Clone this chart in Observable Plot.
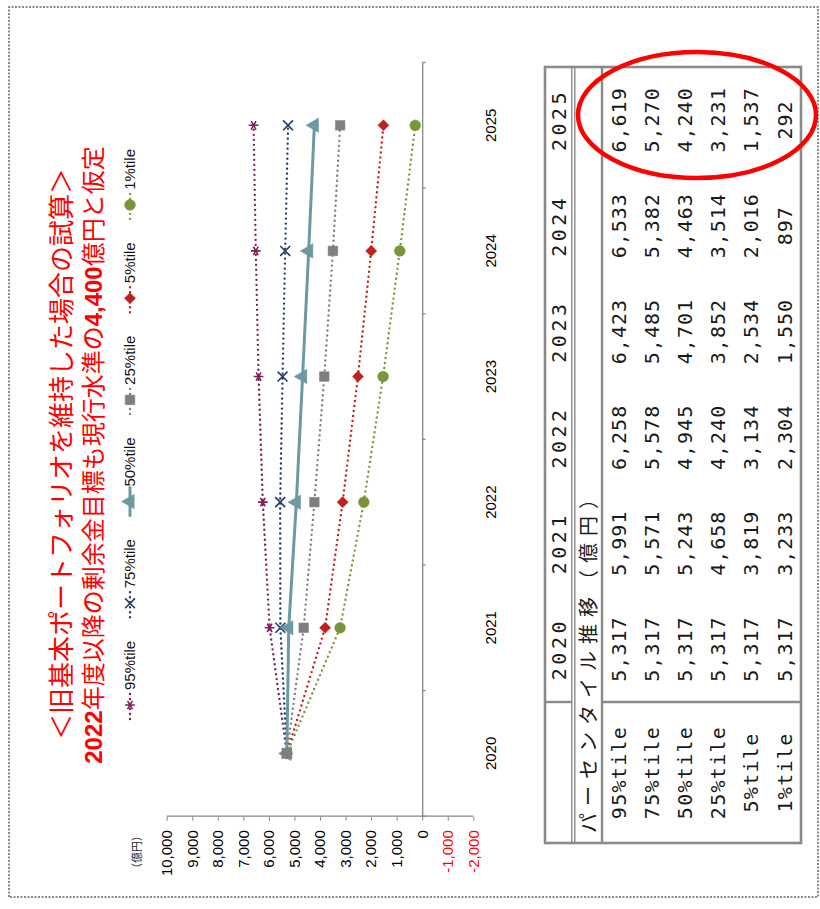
<!DOCTYPE html>
<html><head><meta charset="utf-8">
<script src="https://cdn.jsdelivr.net/npm/d3@7"></script>
<script src="https://cdn.jsdelivr.net/npm/@observablehq/plot@0.6"></script>
<style>
html,body{margin:0;padding:0;background:#fff;width:820px;height:909px;overflow:hidden}
#slide{position:absolute;left:0;top:0;width:909px;height:820px;transform-origin:0 0;transform:translateY(909px) rotate(-90deg);background:#fff}
#slide > svg{position:absolute;left:0;top:0}
</style></head><body><div id="slide"></div>
<script>
// ---------- data ----------
const years = [2020, 2021, 2022, 2023, 2024, 2025];
const seriesNames = ["95%tile", "75%tile", "50%tile", "25%tile", "5%tile", "1%tile"];
const p95 = [5317, 5991, 6258, 6423, 6533, 6619];
const p75 = [5317, 5571, 5578, 5485, 5382, 5270];
const p50 = [5317, 5243, 4945, 4701, 4463, 4240];
const p25 = [5317, 4658, 4240, 3852, 3514, 3231];
const p5  = [5317, 3819, 3134, 2534, 2016, 1537];
const p1  = [5317, 3233, 2304, 1550, 897, 292];
const yMin = -2000, yMax = 10000;
const posTicks = [0, 1000, 2000, 3000, 4000, 5000, 6000, 7000, 8000, 9000, 10000];
const negTicks = [-1000, -2000];
const unitLabel = "（億円）";
const titleLine1 = "＜旧基本ポートフォリオを維持した場合の試算＞";
const titleLine2 = [["2022", true], ["年度以降の剰余金目標も現行水準の", false], ["4,400", true], ["億円と仮定", false]];
const tableTitle = "パーセンタイル推移（億円）";
const tableValues = [p95, p75, p50, p25, p5, p1];

// ---------- styles ----------
const axisGray = "#868686";
const dotted = "0 5";
const styles = [
  {color: "#7F1F5A", symbol: "asterisk", dash: dotted, width: 2.4, r: 4.6, filled: false},
  {color: "#1F3D6B", symbol: "times", dash: dotted, width: 2.4, r: 4.6, filled: false},
  {color: "#6C99A2", symbol: "triangle", dash: null, width: 3, r: 5.4, filled: true},
  {color: "#7F7F7F", symbol: "square", dash: dotted, width: 2.4, r: 5.4, filled: true},
  {color: "#C0211E", symbol: "diamond2", dash: dotted, width: 2.4, r: 5, filled: true},
  {color: "#77963A", symbol: "circle", dash: dotted, width: 2.4, r: 5.4, filled: true}
];
const series = seriesNames.map((name, k) => ({name, values: tableValues[k], ...styles[k]}));
const yearBounds = years.map(y => y - 0.5).concat([years[years.length - 1] + 0.5]);
const fmt = d => (d < 0 ? "-" : "") + d3.format(",")(Math.abs(d));

const lineMarks = series.map(s => Plot.line(
  years.map((yr, i) => ({year: yr, value: s.values[i]})),
  {x: "year", y: "value", stroke: s.color, strokeWidth: s.width,
   strokeDasharray: s.dash || undefined, strokeLinecap: "round"}));
const dotOrder = [0, 1, 2, 4, 5, 3];
const dotMarks = dotOrder.map(k => {
  const s = series[k];
  return Plot.dot(
    years.map((yr, i) => ({year: yr, value: s.values[i]})),
    {x: "year", y: "value", symbol: s.symbol, r: s.r,
     fill: s.filled ? s.color : "none", stroke: s.color, strokeWidth: s.filled ? 0.5 : 1.6});
});

const chart = Plot.plot({
  width: 909, height: 820,
  marginLeft: 92.3, marginRight: 63, marginTop: 166.7, marginBottom: 346.7,
  x: {type: "linear", domain: [yearBounds[0], yearBounds[yearBounds.length - 1]]},
  y: {domain: [yMin, yMax]},
  style: {fontFamily: '"Liberation Sans", Arial, sans-serif', fontSize: "15px", background: "transparent", overflow: "visible", color: "black"},
  marks: [
    Plot.ruleY([0], {stroke: axisGray, strokeWidth: 1.3}),
    Plot.ruleX(yearBounds, {y1: 0, y2: -130, stroke: axisGray, strokeWidth: 1.3}),
    Plot.ruleX([yearBounds[0]], {y1: yMin, y2: yMax, stroke: axisGray, strokeWidth: 1.3}),
    Plot.axisY({ticks: posTicks, tickSize: 4, tickPadding: 10, stroke: axisGray, fill: "black", tickFormat: fmt, label: null}),
    Plot.axisY({ticks: negTicks, tickSize: 4, tickPadding: 10, stroke: axisGray, fill: "#FF0000", tickFormat: fmt, label: null}),
    Plot.axisX({ticks: years, tickSize: 0, tickPadding: 12, tickFormat: d => String(d), label: null}),
    ...lineMarks,
    ...dotMarks
  ]
});
const slide = document.getElementById("slide");
slide.appendChild(chart);

// ---------- overlay: frame, title, legend, table ----------
const svg = d3.select(slide).append("svg").attr("width", 909).attr("height", 820)
  .style("overflow", "visible");
const cjk = '"Noto Sans CJK JP", "Noto Sans", sans-serif';
const sans = '"Liberation Sans", Arial, sans-serif';
const mono = '"DejaVu Sans Mono", monospace';

svg.append("rect").attr("x", 12).attr("y", 9).attr("width", 890).attr("height", 809)
  .attr("fill", "none").attr("stroke", "#666").attr("stroke-width", 1.5).attr("stroke-dasharray", "2 1.5");

// title
svg.append("text").attr("x", 455).attr("y", 62).attr("dy", "0.36em").attr("text-anchor", "middle")
  .attr("font-family", cjk).attr("font-size", 26).attr("fill", "#FF0000").text(titleLine1);
const t2 = svg.append("text").attr("x", 454).attr("y", 93).attr("dy", "0.36em").attr("text-anchor", "middle")
  .attr("font-size", 24).attr("fill", "#FF0000");
titleLine2.forEach(([txt, bold]) => {
  t2.append("tspan").attr("font-family", bold ? sans : cjk).attr("font-weight", bold ? "bold" : "normal").text(txt);
});

// unit label
svg.append("text").attr("x", 79).attr("y", 137).attr("dy", "0.36em").attr("text-anchor", "end")
  .attr("font-family", cjk).attr("font-size", 11).attr("fill", "#222").text(unitLabel);

// legend (items laid out by measured text width)
const symMap = {asterisk: d3.symbolAsterisk, times: d3.symbolTimes, triangle: d3.symbolTriangle,
  square: d3.symbolSquare, diamond2: d3.symbolDiamond2, circle: d3.symbolCircle};
let legU = 190;
const legV = 130;
series.forEach((s) => {
  const g = svg.append("g");
  g.append("line").attr("x1", legU).attr("x2", legU + 28).attr("y1", legV).attr("y2", legV)
    .attr("stroke", s.color).attr("stroke-width", s.width).attr("stroke-linecap", "round")
    .attr("stroke-dasharray", s.dash || null);
  g.append("path").attr("transform", `translate(${legU + 14},${legV})`)
    .attr("d", d3.symbol(symMap[s.symbol], Math.PI * s.r * s.r)())
    .attr("fill", s.filled ? s.color : "none").attr("stroke", s.color).attr("stroke-width", s.filled ? 0.5 : 1.6);
  const t = g.append("text").attr("x", legU + 29).attr("y", legV).attr("dy", "0.36em")
    .attr("font-family", sans).attr("font-size", 15).attr("fill", "#111").text(s.name);
  const w = t.node().getComputedTextLength();
  legU += 29 + w + 23.5;
});

// table
const tb = {u0: 66, u1: 842, v0: 545, vHead: 573, vSub: 602, v1: 801, uLab: 207};
const tg = svg.append("g");
const tl = (x1, y1, x2, y2, w) => tg.append("line").attr("x1", x1).attr("y1", y1).attr("x2", x2).attr("y2", y2)
  .attr("stroke", "#8a8a8a").attr("stroke-width", w);
tg.append("rect").attr("x", tb.u0).attr("y", tb.v0).attr("width", tb.u1 - tb.u0).attr("height", tb.v1 - tb.v0)
  .attr("fill", "none").attr("stroke", "#8a8a8a").attr("stroke-width", 2.6);
tl(tb.u0, tb.vHead - 1.2, tb.u1, tb.vHead - 1.2, 1.4);
tl(tb.u0, tb.vHead + 1.8, tb.u1, tb.vHead + 1.8, 1.4);
tl(tb.u0, tb.vSub, tb.u1, tb.vSub, 2.4);
tl(tb.uLab, tb.v0, tb.uLab, tb.vHead - 1.2, 2.4);
tl(tb.uLab, tb.vSub, tb.uLab, tb.v1, 2.4);
const colW = (tb.u1 - tb.uLab) / years.length;
const rowH = (tb.v1 - tb.vSub) / seriesNames.length;
const tableInk = "#1a1a1a";
years.forEach((yr, j) => {
  tg.append("text").attr("x", tb.uLab + colW * (j + 0.5)).attr("y", (tb.v0 + tb.vHead) / 2).attr("dy", "0.36em")
    .attr("text-anchor", "middle").attr("font-family", mono).attr("font-size", 20)
    .attr("letter-spacing", 3.5).attr("fill", tableInk).text(String(yr));
});
tg.append("text").attr("x", 76).attr("y", (tb.vHead + tb.vSub) / 2 + 1).attr("dy", "0.36em")
  .attr("font-family", cjk).attr("font-size", 20).attr("letter-spacing", 7).attr("fill", tableInk).text(tableTitle);
seriesNames.forEach((name, i) => {
  const v = tb.vSub + rowH * (i + 0.5);
  tg.append("text").attr("x", (tb.u0 + tb.uLab) / 2).attr("y", v).attr("dy", "0.36em")
    .attr("text-anchor", "middle").attr("font-family", mono).attr("font-size", 20)
    .attr("letter-spacing", 1.3).attr("fill", tableInk).text(name);
  tableValues[i].forEach((val, j) => {
    tg.append("text").attr("x", tb.uLab + colW * (j + 0.5)).attr("y", v).attr("dy", "0.36em")
      .attr("text-anchor", "middle").attr("font-family", mono).attr("font-size", 20)
      .attr("letter-spacing", 1).attr("fill", tableInk).text(d3.format(",")(val));
  });
});

// highlight ellipse around 2025 column
svg.append("ellipse").attr("cx", 794).attr("cy", 697).attr("rx", 63).attr("ry", 119)
  .attr("fill", "none").attr("stroke", "#FF0000").attr("stroke-width", 4.5);
</script></body></html>
